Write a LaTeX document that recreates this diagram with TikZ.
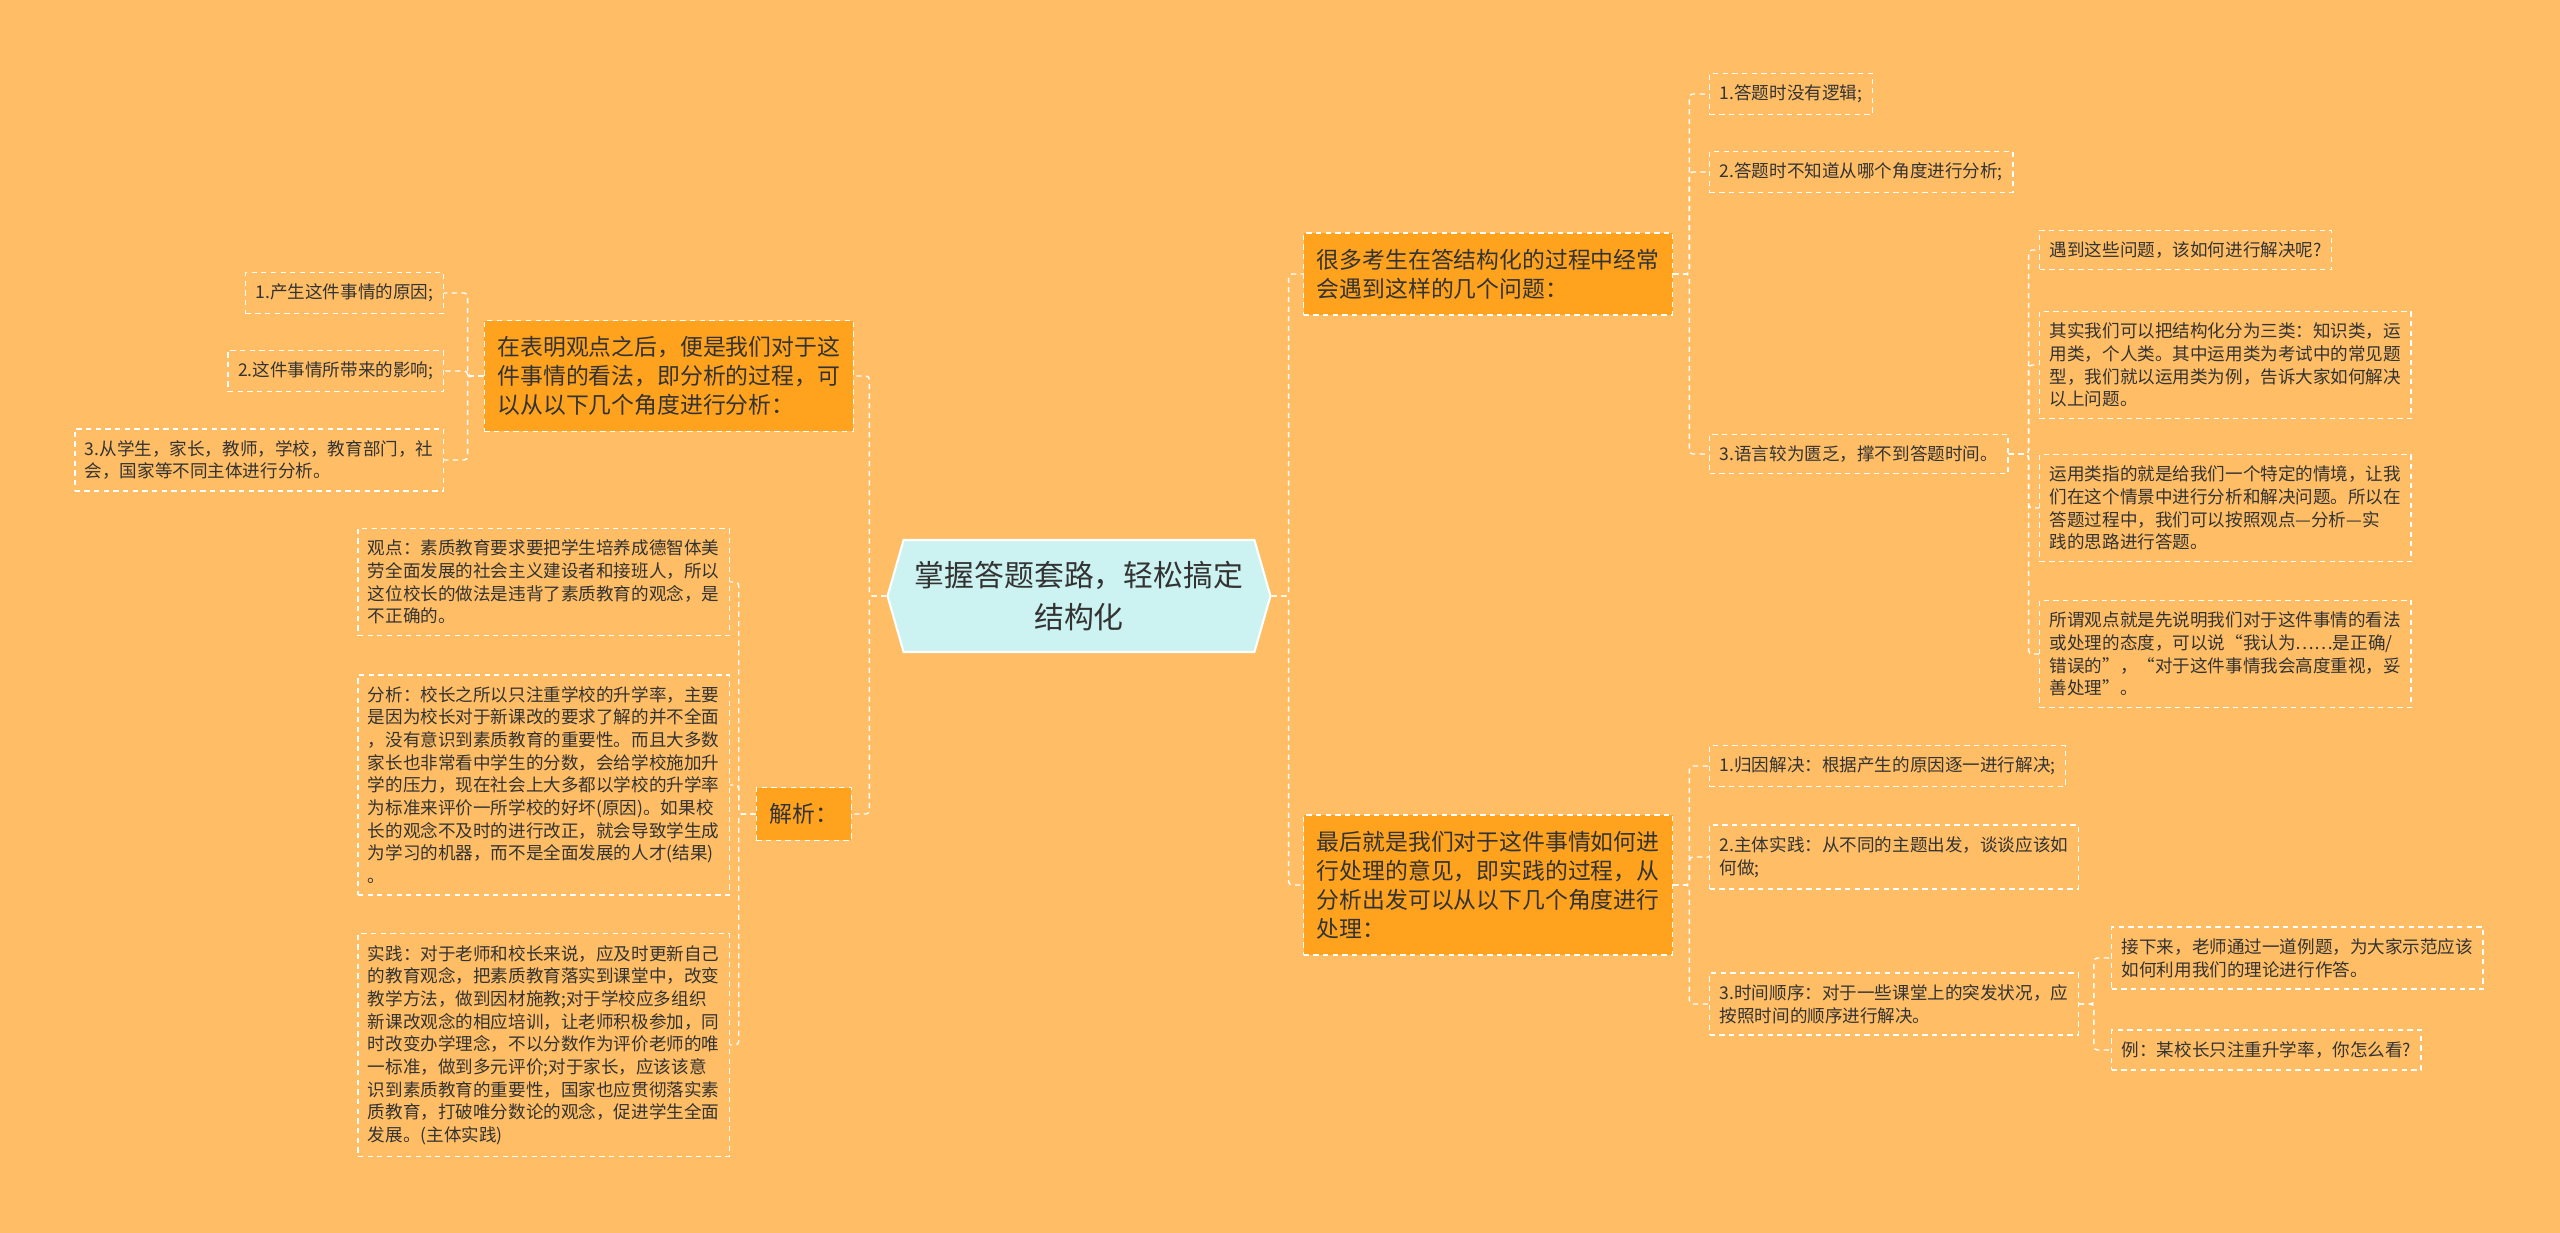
\documentclass[tikz,border=0pt]{standalone}
\usepackage{fontspec}
\setmainfont{Noto Sans CJK SC}
\usepackage{tikz}
\usetikzlibrary{shapes.symbols}
\definecolor{bgcol}{HTML}{FFBE66}
\definecolor{topiccol}{HTML}{FFA31F}
\definecolor{hubcol}{HTML}{CCF3F1}
\definecolor{inkcol}{HTML}{333333}

\begin{document}
\begin{tikzpicture}[x=0.02cm,y=-0.02cm]
        \tikzset{hub/.style = {shape=signal,signal to=east and west,signal pointer angle=148,fill=hubcol,draw=white,line width=1.2pt,minimum width=7.66cm,minimum height=2.24cm,inner xsep=0pt,align=center,text=inkcol,font=\fontsize{17}{24}\selectfont}};
        \tikzset{topic/.style = {shape=rectangle,fill=topiccol,draw=white,line width=0.8pt,dash pattern=on 3pt off 2.5pt,inner xsep=7.5pt,inner ysep=9pt,align=left,text=inkcol,font=\fontsize{13}{16.5}\selectfont}};
        \tikzset{leaf/.style = {shape=rectangle,draw=white,line width=0.8pt,dash pattern=on 3pt off 2.5pt,inner xsep=5.7pt,inner ysep=6.5pt,align=left,text=inkcol,font=\fontsize{10}{12.9}\selectfont}};
        \tikzset{link/.style = {draw=white,line width=0.8pt,dash pattern=on 3pt off 2.5pt,rounded corners=2pt}};
        \fill[bgcol] (0,0) rectangle (2560,1233);
        % centre
        \node[hub] (hub) at (1079,596) {掌握答题套路，轻松搞定\\结构化};
        % left side
        \node[topic,anchor=east] (l1) at (854,376) {在表明观点之后，便是我们对于这\\件事情的看法，即分析的过程，可\\以从以下几个角度进行分析：};
        \node[leaf,anchor=east] (l1a) at (444,293) {1.产生这件事情的原因;};
        \node[leaf,anchor=east] (l1b) at (444,371) {2.这件事情所带来的影响;};
        \node[leaf,anchor=east] (l1c) at (444,460) {3.从学生，家长，教师，学校，教育部门，社\\会，国家等不同主体进行分析。};
        \node[topic,anchor=east] (l2) at (852,814) {解析：};
        \node[leaf,anchor=east] (l2a) at (730,582) {观点：素质教育要求要把学生培养成德智体美\\劳全面发展的社会主义建设者和接班人，所以\\这位校长的做法是违背了素质教育的观念，是\\不正确的。};
        \node[leaf,anchor=east] (l2b) at (730,785) {分析：校长之所以只注重学校的升学率，主要\\是因为校长对于新课改的要求了解的并不全面\\，没有意识到素质教育的重要性。而且大多数\\家长也非常看中学生的分数，会给学校施加升\\学的压力，现在社会上大多都以学校的升学率\\为标准来评价一所学校的好坏(原因)。如果校\\长的观念不及时的进行改正，就会导致学生成\\为学习的机器，而不是全面发展的人才(结果)\\。};
        \node[leaf,anchor=east] (l2c) at (730,1045) {实践：对于老师和校长来说，应及时更新自己\\的教育观念，把素质教育落实到课堂中，改变\\教学方法，做到因材施教;对于学校应多组织\\新课改观念的相应培训，让老师积极参加，同\\时改变办学理念，不以分数作为评价老师的唯\\一标准，做到多元评价;对于家长，应该该意\\识到素质教育的重要性，国家也应贯彻落实素\\质教育，打破唯分数论的观念，促进学生全面\\发展。(主体实践)};
        % right side
        \node[topic,anchor=west] (r1) at (1303,274) {很多考生在答结构化的过程中经常\\会遇到这样的几个问题：};
        \node[leaf,anchor=west] (r1a) at (1709,94) {1.答题时没有逻辑;};
        \node[leaf,anchor=west] (r1b) at (1709,172) {2.答题时不知道从哪个角度进行分析;};
        \node[leaf,anchor=west] (r1c) at (1709,454) {3.语言较为匮乏，撑不到答题时间。};
        \node[leaf,anchor=west] (r1c1) at (2039,250) {遇到这些问题，该如何进行解决呢?};
        \node[leaf,anchor=west] (r1c2) at (2039,365) {其实我们可以把结构化分为三类：知识类，运\\用类，个人类。其中运用类为考试中的常见题\\型，我们就以运用类为例，告诉大家如何解决\\以上问题。};
        \node[leaf,anchor=west] (r1c3) at (2039,508) {运用类指的就是给我们一个特定的情境，让我\\们在这个情景中进行分析和解决问题。所以在\\答题过程中，我们可以按照观点—分析—实\\践的思路进行答题。};
        \node[leaf,anchor=west] (r1c4) at (2039,654) {所谓观点就是先说明我们对于这件事情的看法\\或处理的态度，可以说“我认为……是正确/\\错误的”，“对于这件事情我会高度重视，妥\\善处理”。};
        \node[topic,anchor=west] (r2) at (1303,885) {最后就是我们对于这件事情如何进\\行处理的意见，即实践的过程，从\\分析出发可以从以下几个角度进行\\处理：};
        \node[leaf,anchor=west] (r2a) at (1709,766) {1.归因解决：根据产生的原因逐一进行解决;};
        \node[leaf,anchor=west] (r2b) at (1709,857) {2.主体实践：从不同的主题出发，谈谈应该如\\何做;};
        \node[leaf,anchor=west] (r2c) at (1709,1004) {3.时间顺序：对于一些课堂上的突发状况，应\\按照时间的顺序进行解决。};
        \node[leaf,anchor=west] (r2c1) at (2111,958) {接下来，老师通过一道例题，为大家示范应该\\如何利用我们的理论进行作答。};
        \node[leaf,anchor=west] (r2c2) at (2111,1050) {例：某校长只注重升学率，你怎么看?};
        % links
        \draw[link] (hub.west) -- ++(-17,0) |- (l1);
        \draw[link] (hub.west) -- ++(-17,0) |- (l2);
        \draw[link] (l1.west) -- ++(-16,0) |- (l1a);
        \draw[link] (l1.west) -- ++(-16,0) |- (l1b);
        \draw[link] (l1.west) -- ++(-16,0) |- (l1c);
        \draw[link] (l2.west) -- ++(-17,0) |- (l2a);
        \draw[link] (l2.west) -- ++(-17,0) |- (l2b);
        \draw[link] (l2.west) -- ++(-17,0) |- (l2c);
        \draw[link] (hub.east) -- ++(17,0) |- (r1);
        \draw[link] (hub.east) -- ++(17,0) |- (r2);
        \draw[link] (r1.east) -- ++(16,0) |- (r1a);
        \draw[link] (r1.east) -- ++(16,0) |- (r1b);
        \draw[link] (r1.east) -- ++(16,0) |- (r1c);
        \draw[link] (r1c.east) -- ++(20,0) |- (r1c1);
        \draw[link] (r1c.east) -- ++(20,0) |- (r1c2);
        \draw[link] (r1c.east) -- ++(20,0) |- (r1c3);
        \draw[link] (r1c.east) -- ++(20,0) |- (r1c4);
        \draw[link] (r2.east) -- ++(16,0) |- (r2a);
        \draw[link] (r2.east) -- ++(16,0) |- (r2b);
        \draw[link] (r2.east) -- ++(16,0) |- (r2c);
        \draw[link] (r2c.east) -- ++(15,0) |- (r2c1);
        \draw[link] (r2c.east) -- ++(15,0) |- (r2c2);
\end{tikzpicture}
\end{document}
